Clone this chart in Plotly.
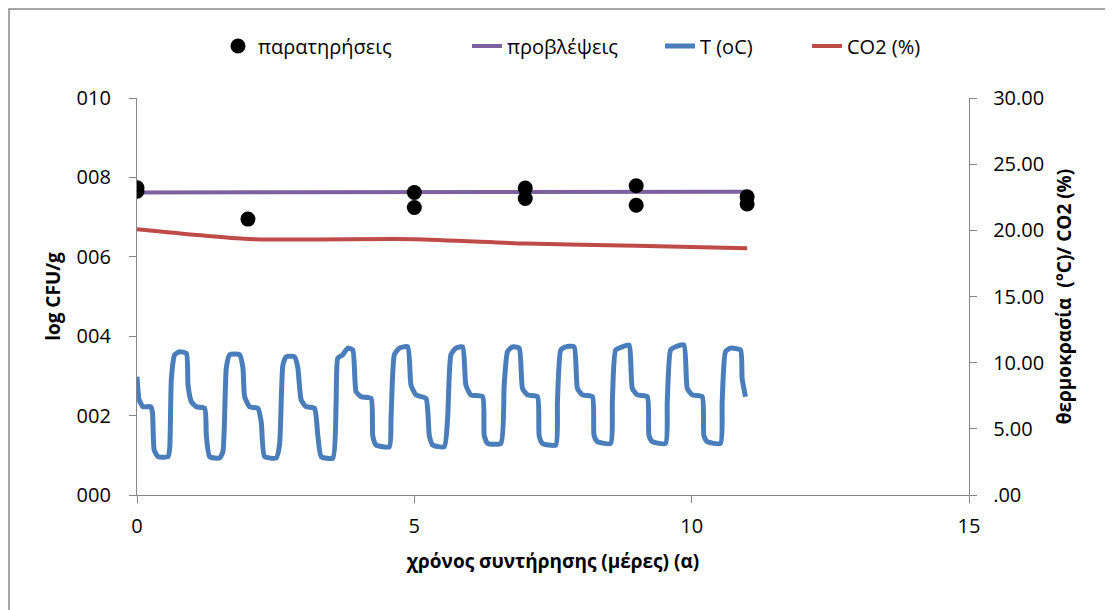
import plotly.graph_objects as go

# ---- data ----
obs_day = [0, 0, 2, 5, 5, 7, 7, 9, 9, 11, 11]
obs_log = [7.74, 7.65, 6.95, 7.62, 7.24, 7.73, 7.47, 7.79, 7.30, 7.51, 7.33]

pred_day = [0, 2, 5, 7, 9, 11]
pred_log = [7.62, 7.62, 7.63, 7.63, 7.64, 7.64]

co2_day = [0, 2, 5, 7, 9, 11]
co2_pct = [20.08, 19.35, 19.33, 19.00, 18.83, 18.65]

temp_day = [0.00, 0.04, 0.11, 0.25, 0.28, 0.31, 0.38, 0.56, 0.59, 0.62, 0.68, 0.77, 0.89, 0.92, 0.98,
            1.07, 1.22, 1.25, 1.31, 1.49, 1.55, 1.61, 1.67, 1.85, 1.91, 1.94,
            2.03, 2.18, 2.24, 2.30, 2.51, 2.57, 2.63, 2.69, 2.84, 2.90, 2.96,
            3.05, 3.20, 3.26, 3.32, 3.53, 3.59, 3.62, 3.71, 3.80, 3.89, 3.95,
            4.04, 4.22, 4.25, 4.31, 4.55, 4.58, 4.64, 4.73, 4.88, 4.94,
            5.03, 5.21, 5.27, 5.33, 5.54, 5.60, 5.66, 5.75, 5.87, 5.93,
            6.02, 6.23, 6.26, 6.32, 6.56, 6.62, 6.68, 6.77, 6.89, 6.95,
            7.04, 7.22, 7.25, 7.31, 7.55, 7.58, 7.64, 7.73, 7.88, 7.94,
            8.03, 8.21, 8.24, 8.30, 8.54, 8.57, 8.63, 8.75, 8.87, 8.93,
            9.02, 9.20, 9.23, 9.29, 9.53, 9.56, 9.62, 9.71, 9.86, 9.92,
            10.01, 10.19, 10.22, 10.28, 10.52, 10.55, 10.61, 10.70, 10.88, 10.91, 10.97]
temp_c = [8.94, 7.18, 6.67, 6.67, 6.20, 3.40, 2.90, 2.90, 3.55, 8.80, 10.60, 10.83, 10.70, 8.30, 7.05,
          6.67, 6.55, 4.50, 2.90, 2.80, 3.30, 9.60, 10.60, 10.60, 9.60, 7.43,
          6.67, 6.55, 5.50, 2.90, 2.80, 3.78, 9.80, 10.45, 10.45, 9.60, 7.18,
          6.67, 6.55, 4.50, 2.90, 2.78, 7.05, 10.33, 10.60, 11.10, 10.96, 7.80,
          7.43, 7.30, 4.50, 3.78, 3.65, 5.80, 10.60, 11.10, 11.20, 8.30,
          7.56, 7.30, 4.50, 3.78, 3.65, 5.80, 10.60, 11.10, 11.20, 8.30,
          7.56, 7.43, 4.50, 3.90, 3.90, 8.30, 10.83, 11.20, 11.10, 8.06,
          7.56, 7.43, 4.50, 3.90, 3.78, 7.05, 10.96, 11.20, 11.20, 8.06,
          7.56, 7.43, 4.50, 4.03, 3.90, 7.05, 10.96, 11.20, 11.34, 8.06,
          7.56, 7.43, 4.50, 4.03, 3.90, 7.05, 10.96, 11.20, 11.34, 8.06,
          7.56, 7.43, 4.50, 4.03, 3.90, 7.05, 10.83, 11.10, 10.96, 8.80, 7.43]

left_vals = [0, 2, 4, 6, 8, 10]
left_text = ["000", "002", "004", "006", "008", "010"]
right_vals = [0, 5, 10, 15, 20, 25, 30]
right_text = [".00", "5.00", "10.00", "15.00", "20.00", "25.00", "30.00"]
x_vals = [0, 5, 10, 15]

FONT = "Open Sans"
AX = "#868686"
OFF = 8  # page body margin
W, H = 1113 - OFF, 610 - OFF
L, T = 137 - OFF, 98 - OFF
R = W - (969 - OFF)
B = H - (495 - OFF)
PW = W - L - R
PH = H - T - B


def px_x(sx):
    return (sx - OFF - L) / PW


def px_y(sy):
    return (H - B - (sy - OFF)) / PH


fig = go.Figure()

fig.add_trace(go.Scatter(x=temp_day, y=temp_c, mode="lines", name="T (oC)", yaxis="y2",
                         line=dict(color="#4A7EBB", width=5, shape="spline", smoothing=0.5),
                         legend="legend3"))
fig.add_trace(go.Scatter(x=co2_day, y=co2_pct, mode="lines", name="CO2 (%)", yaxis="y2",
                         line=dict(color="#BE4B48", width=4, shape="spline", smoothing=0.6),
                         legend="legend4"))
fig.add_trace(go.Scatter(x=pred_day, y=pred_log, mode="lines", name="προβλέψεις",
                         line=dict(color="#7D60A0", width=4), legend="legend2"))
fig.add_trace(go.Scatter(x=obs_day, y=obs_log, mode="markers", name="παρατηρήσεις",
                         marker=dict(color="black", size=15), legend="legend"))

leg_y = px_y(46)
leg_common = dict(yanchor="middle", xanchor="left", bgcolor="rgba(0,0,0,0)",
                  font=dict(family=FONT, size=20, color="black"), borderwidth=0,
                  orientation="h", visible=True)

fig.update_layout(
    width=W, height=H,
    margin=dict(l=L, r=R, t=T, b=B),
    paper_bgcolor="white", plot_bgcolor="white",
    font=dict(family=FONT, size=20, color="black"),
    showlegend=True,
    legend=dict(x=px_x(218), y=leg_y, **leg_common),
    legend2=dict(x=px_x(467), y=leg_y, **leg_common),
    legend3=dict(x=px_x(660), y=leg_y, **leg_common),
    legend4=dict(x=px_x(807), y=leg_y, **leg_common),
    xaxis=dict(range=[0, 15], tickvals=x_vals, showgrid=False, zeroline=False,
               showline=True, linecolor=AX, linewidth=1.3, ticks="outside", ticklen=7,
               tickcolor=AX, ticklabelstandoff=6,
               title=dict(text="<b>χρόνος συντήρησης (μέρες) (α)</b>", standoff=16,
                          font=dict(family=FONT, size=19))),
    yaxis=dict(range=[0, 10], tickvals=left_vals, ticktext=left_text, showgrid=False,
               zeroline=False, showline=True, linecolor=AX, linewidth=1.3, ticks="outside",
               ticklen=7, tickcolor=AX, ticklabelstandoff=14,
               title=dict(text="<b>log CFU/g</b>", standoff=10, font=dict(family=FONT, size=19))),
    yaxis2=dict(range=[0, 30], tickvals=right_vals, ticktext=right_text, overlaying="y",
                side="right", showgrid=False, zeroline=False, showline=True, linecolor=AX,
                linewidth=1.3, ticks="outside", ticklen=7, tickcolor=AX, ticklabelstandoff=12,
                title=dict(text="<b>θερμοκρασία  (°C)/ CO2 (%)</b>", standoff=14,
                           font=dict(family=FONT, size=19))),
    shapes=[dict(type="rect", xref="paper", yref="paper",
                 x0=px_x(OFF + 1), x1=px_x(1113 + 30), y0=px_y(610 + 30), y1=px_y(OFF + 1),
                 line=dict(color="#898989", width=1.5), fillcolor="rgba(0,0,0,0)", layer="below")],
)

fig.write_html("out.html")
